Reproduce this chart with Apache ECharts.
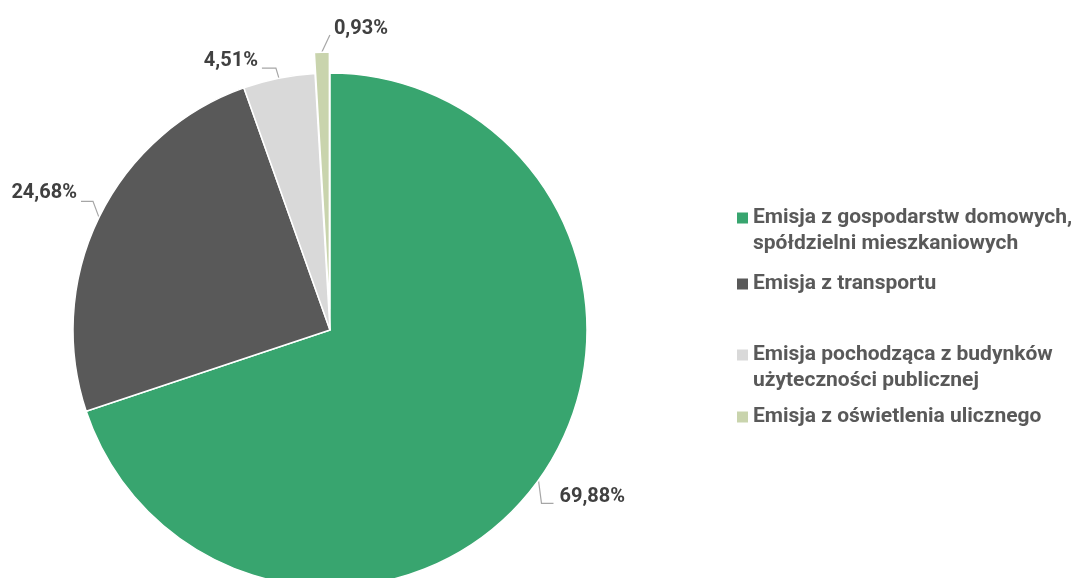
<!DOCTYPE html>
<html><head><meta charset="utf-8">
<script src="https://cdn.jsdelivr.net/npm/echarts@6/dist/echarts.min.js"></script>
<style>html,body{margin:0;padding:0;background:#fff}#c{width:1076px;height:578px}</style>
</head><body><div id="c"></div>
<script>
const categories = [
  'Emisja z gospodarstw domowych,\nspółdzielni mieszkaniowych',
  'Emisja z transportu',
  'Emisja pochodząca z budynków\nużyteczności publicznej',
  'Emisja z oświetlenia ulicznego'
];
const values = [69.88, 24.68, 4.51, 0.93];
const colors = ['#38A56F', '#595959', '#D9D9D9', '#C9D4AD'];
const exploded = [false, false, false, true];
const FONT = 'Roboto, "Liberation Sans", sans-serif';

// leader-line styling per slice (relative offsets from the slice edge point)
const leaders = [
  {d1: [3, 23], d2: 12, tx: 6, ty: -6, align: 'left'},
  {d1: [-6, -16], d2: -12, tx: -4, ty: -8, align: 'right'},
  {d1: [-3, -10], d2: -14, tx: -4, ty: -7, align: 'right'},
  {d1: [8, -17], d2: 0, tx: 4, ty: -6, align: 'left'}
];

const CENTER = [330, 330];
const RADIUS = 257;
const EXPLODE = 21;

const total = values.reduce((a, b) => a + b, 0);
function midDir(idx) {
  let before = 0;
  for (let i = 0; i < idx; i++) before += values[i];
  const frac = (before + values[idx] / 2) / total;
  const ang = frac * 2 * Math.PI;
  return [Math.sin(ang), -Math.cos(ang)];
}

const chart = echarts.init(document.getElementById('c'), null, {renderer: 'canvas'});
const legendLineY = [218, 284, 355, 417];
const legends = categories.map((name, i) => {
  const twoLine = name.indexOf('\n') >= 0;
  return {
    data: [name],
    left: 737,
    top: legendLineY[i] - 13,
    orient: 'vertical',
    padding: 0,
    itemWidth: 11,
    itemHeight: twoLine ? 37 : 11,
    itemGap: 0,
    selectedMode: false,
    icon: twoLine ? 'path://M0,0H11V11H0Z M0,37H11' : 'rect',
    itemStyle: {borderWidth: 0},
    textStyle: {
      fontFamily: FONT, fontWeight: 'bold', fontSize: 21, color: '#595959',
      lineHeight: 26
    }
  };
});

const labelLayout = function (params) {
  const pts = params.labelLinePoints;
  const s = leaders[params.dataIndex];
  if (!pts || !s) return {};
  const p0 = pts[0];
  const p1 = [p0[0] + s.d1[0], p0[1] + s.d1[1]];
  const p2 = [p1[0] + s.d2, p1[1]];
  return {
    x: p2[0] + s.tx, y: p2[1] + s.ty,
    align: s.align, verticalAlign: 'middle',
    labelLinePoints: [p0, p1, p2]
  };
};

function makeSeries(showExploded) {
  const dir = midDir(exploded.indexOf(true));
  const center = showExploded
    ? [CENTER[0] + dir[0] * EXPLODE, CENTER[1] + dir[1] * EXPLODE]
    : CENTER;
  return {
    type: 'pie',
    center: center,
    radius: RADIUS,
    startAngle: 90,
    clockwise: true,
    silent: true,
    label: {
      show: true, overflow: 'none',
      fontFamily: FONT, fontWeight: 'bold', fontSize: 20, color: '#404040',
      formatter: p => p.value.toFixed(2).replace('.', ',') + '%'
    },
    labelLine: {show: true, length: 14, length2: 12, lineStyle: {color: '#A6A6A6', width: 1.2}},
    labelLayout: labelLayout,
    emphasis: {disabled: true},
    data: categories.map((n, i) => {
      const visible = exploded[i] === showExploded;
      return visible
        ? {name: n, value: values[i], itemStyle: {color: colors[i], borderColor: '#fff', borderWidth: 1.5}}
        : {name: '_hidden' + i, value: values[i],
           itemStyle: {color: 'rgba(0,0,0,0)', borderWidth: 0},
           label: {show: false}, labelLine: {show: false}};
    })
  };
}

chart.setOption({
  animation: false,
  legend: legends,
  series: [makeSeries(false), makeSeries(true)]
});
</script></body></html>
